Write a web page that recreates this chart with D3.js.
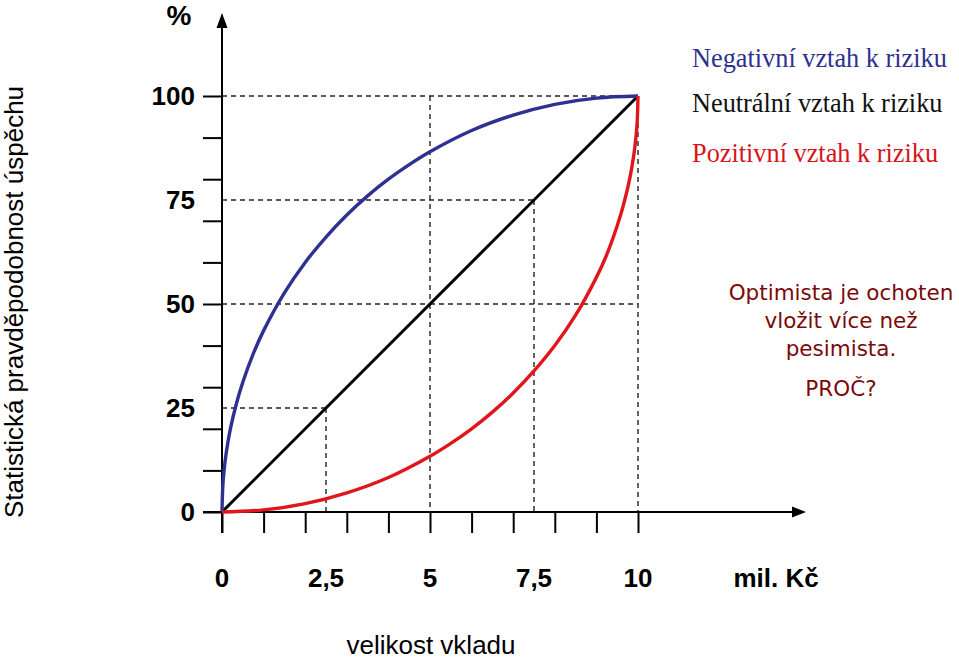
<!DOCTYPE html>
<html><head><meta charset="utf-8">
<script src="https://cdn.jsdelivr.net/npm/d3@7"></script>
<style>html,body{margin:0;padding:0;background:#fff;}svg{display:block;}</style>
</head><body>
<svg id="c" width="959" height="660"></svg>
<script>
// ---- data ----
const xTicks = [0,1,2,3,4,5,6,7,8,9,10];
const yTicks = [0,10,20,30,40,50,60,70,80,90,100];
const xLabels = [0,2.5,5,7.5,10];
const yLabels = [0,25,50,75,100];
const negX = [0,0.02,0.05,0.1,0.2,0.35,0.5,0.75,1,1.5,2,2.5,3,3.5,4,4.5,5,6,7,8,9,10];
const negY = [0,6.3,10,14.1,19.9,26.2,31.2,38,43.6,52.7,60,66.1,71.4,76,80,83.5,86.6,91.7,95.4,98,99.5,100];
const posX = [0,1,2,3,4,5,5.5,6,6.5,7,7.5,8,8.5,9,9.25,9.5,9.65,9.8,9.9,9.95,9.98,10];
const posY = [0,0.5,2,4.6,8.3,13.4,16.5,20,24,28.6,33.9,40,47.3,56.4,61.9,68.8,73.8,80.1,85.9,90,93.7,100];
const neuX = [0,10];
const neuY = [0,100];
const guideX = [2.5,5,7.5,10];
const guideY = [25,50,75,100];
const legendTexts = ["Negativní vztah k riziku","Neutrální vztah k riziku","Pozitivní vztah k riziku"];
const legendColors = ["#2e3192","#111111","#d7141a"];
const noteLines = ["Optimista je ochoten","vložit více než","pesimista."];
const noteQ = "PROČ?";

const svg = d3.select("#c");
const x = d3.scaleLinear().domain([0,10]).range([222,638]);
const y = d3.scaleLinear().domain([0,100]).range([512,96]);

// dashed guides
const dash = svg.append("g").attr("stroke","#222").attr("stroke-width",1.4).attr("stroke-dasharray","5,4").attr("fill","none");
guideX.forEach((gx,i)=>{
  const gy = guideY[i];
  dash.append("line").attr("x1",x(0)).attr("x2",x(gx)).attr("y1",y(gy)).attr("y2",y(gy));
  dash.append("line").attr("x1",x(gx)).attr("x2",x(gx)).attr("y1",y(gy)).attr("y2",y(0));
});
dash.append("line").attr("x1",x(5)).attr("x2",x(10)).attr("y1",y(50)).attr("y2",y(50));
dash.append("line").attr("x1",x(5)).attr("x2",x(5)).attr("y1",y(100)).attr("y2",y(50));

// axes ticks
const gx = svg.append("g").attr("transform",`translate(0,${y(0)})`)
  .call(d3.axisBottom(x).tickValues(xTicks).tickSize(21).tickFormat(""));
const gy = svg.append("g").attr("transform",`translate(${x(0)},0)`)
  .call(d3.axisLeft(y).tickValues(yTicks).tickSize(19).tickFormat(""));
[gx,gy].forEach(g=>{g.select(".domain").remove(); g.selectAll(".tick line").attr("stroke","#000").attr("stroke-width",2);});

// axis lines with arrows
svg.append("line").attr("x1",x(0)-19).attr("x2",798).attr("y1",y(0)).attr("y2",y(0)).attr("stroke","#000").attr("stroke-width",2);
svg.append("path").attr("d",`M806,${y(0)} L792,${y(0)-5.5} L792,${y(0)+5.5} Z`).attr("fill","#000");
svg.append("line").attr("x1",x(0)).attr("x2",x(0)).attr("y1",y(0)+21).attr("y2",22).attr("stroke","#000").attr("stroke-width",2);
svg.append("path").attr("d",`M${x(0)},13 L${x(0)-5.5},28 L${x(0)+5.5},28 Z`).attr("fill","#000");

// curves
const line = d3.line().x(d=>x(d[0])).y(d=>y(d[1])).curve(d3.curveCatmullRom.alpha(0.5));
svg.append("path").datum(neuX.map((v,i)=>[v,neuY[i]])).attr("d",line).attr("fill","none").attr("stroke","#000").attr("stroke-width",3);
svg.append("path").datum(negX.map((v,i)=>[v,negY[i]])).attr("d",line).attr("fill","none").attr("stroke","#2e3192").attr("stroke-width",3.4);
svg.append("path").datum(posX.map((v,i)=>[v,posY[i]])).attr("d",line).attr("fill","none").attr("stroke","#e0161c").attr("stroke-width",3.4);

// labels
const sans = "Liberation Sans, Arial, sans-serif";
svg.selectAll(".yl").data(yLabels).enter().append("text")
  .attr("x",195).attr("y",d=>y(d)+9).attr("text-anchor","end")
  .attr("font-family",sans).attr("font-weight","bold").attr("font-size",26).text(d=>d);
svg.selectAll(".xl").data(xLabels).enter().append("text")
  .attr("x",d=>x(d)).attr("y",587).attr("text-anchor","middle")
  .attr("font-family",sans).attr("font-weight","bold").attr("font-size",26)
  .text(d=>String(d).replace(".",","));
svg.append("text").attr("x",776).attr("y",587).attr("text-anchor","middle")
  .attr("font-family",sans).attr("font-weight","bold").attr("font-size",26).text("mil. Kč");
svg.append("text").attr("x",179).attr("y",25).attr("text-anchor","middle")
  .attr("font-family",sans).attr("font-weight","bold").attr("font-size",28).text("%");
svg.append("text").attr("x",431).attr("y",654).attr("text-anchor","middle")
  .attr("font-family",sans).attr("font-size",26).text("velikost vkladu");
svg.append("text").attr("transform","translate(23,302) rotate(-90)").attr("text-anchor","middle")
  .attr("font-family",sans).attr("font-size",26).text("Statistická pravděpodobnost úspěchu");

// legend
legendTexts.forEach((t,i)=>{
  svg.append("text").attr("x",692).attr("y",[67,112,162][i])
    .attr("font-family","Liberation Serif, Times New Roman, serif").attr("font-size",26.3)
    .attr("fill",legendColors[i]).text(t);
});
// note
const noteFont = "DejaVu Sans, sans-serif";
noteLines.forEach((t,i)=>{
  svg.append("text").attr("x",841).attr("y",300+i*28).attr("text-anchor","middle")
    .attr("font-family",noteFont).attr("font-size",21.5)
    .attr("fill","#7a0a0a").text(t);
});
svg.append("text").attr("x",841).attr("y",396).attr("text-anchor","middle")
  .attr("font-family",noteFont).attr("font-size",21.5)
  .attr("fill","#7a0a0a").text(noteQ);
</script>
</body></html>
